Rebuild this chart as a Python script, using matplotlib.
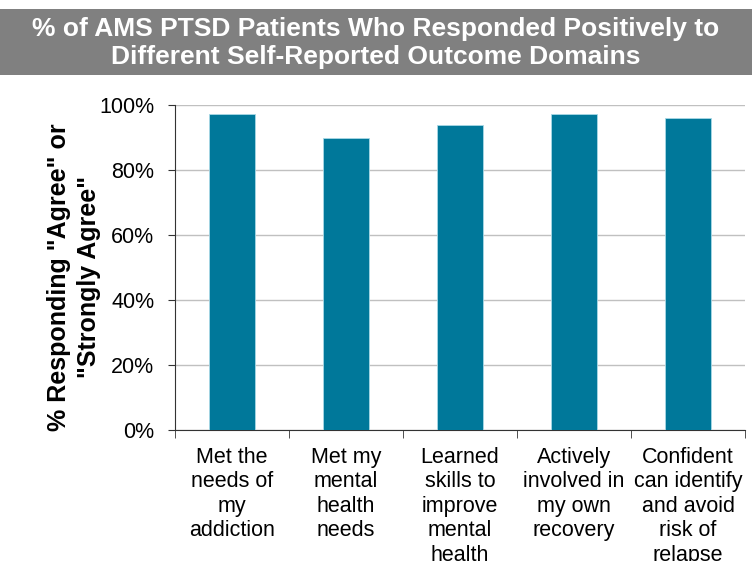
import numpy as np
import matplotlib.pyplot as plt
from matplotlib.patches import Rectangle
from matplotlib.ticker import FixedLocator, PercentFormatter

plt.rcParams['font.family'] = ['Liberation Sans', 'DejaVu Sans']

# data
categories = ['Met the\nneeds of\nmy\naddiction',
              'Met my\nmental\nhealth\nneeds',
              'Learned\nskills to\nimprove\nmental\nhealth',
              'Actively\ninvolved in\nmy own\nrecovery',
              'Confident\ncan identify\nand avoid\nrisk of\nrelapse']
pct_agree = [97.2, 89.7, 93.8, 97.2, 95.9]
y_ticks = [0, 20, 40, 60, 80, 100]

title = ('% of AMS PTSD Patients Who Responded Positively to\n'
         'Different Self-Reported Outcome Domains')
ylabel = '% Responding "Agree" or\n"Strongly Agree"'

bar_color = '#00789a'

fig = plt.figure(figsize=(7.52, 5.61), dpi=100)

# grey title banner
fig.patches.append(Rectangle((0, 1 - 75/561), 1, 66/561, transform=fig.transFigure,
                             facecolor='#808080', edgecolor='none', zorder=0))
fig.text(0.5, 1 - 43/561, title, color='white', fontsize=19, fontweight='bold',
         ha='center', va='center', linespacing=1.25)

ax = fig.add_axes([175/752, 1 - 430/561, 570/752, 325/561])
x = np.arange(len(categories))
ax.bar(x, pct_agree, width=0.4, color=bar_color, edgecolor='#a8d8e6',
       linewidth=0.6, zorder=3)

ax.set_xlim(-0.5, len(categories) - 0.5)
ax.set_ylim(0, 100)
ax.set_yticks(y_ticks)
ax.yaxis.set_major_formatter(PercentFormatter(decimals=0))
ax.yaxis.grid(True, color='#c0c0c0', linewidth=1, zorder=0)

ax.set_xticks(x)
ax.set_xticklabels(categories, fontsize=15.5, linespacing=1.22, va='top')
ax.xaxis.set_minor_locator(FixedLocator(np.arange(-0.5, len(categories), 1)))
ax.tick_params(axis='x', which='major', length=0, pad=12)
ax.tick_params(axis='x', which='minor', length=6, color='#333333')
ax.tick_params(axis='y', length=5, labelsize=15.5, color='#333333', pad=10)

for s in ['top', 'right']:
    ax.spines[s].set_visible(False)
for s in ['left', 'bottom']:
    ax.spines[s].set_color('#333333')

ax.set_ylabel(ylabel, fontsize=18, fontweight='bold', linespacing=1.3)
ax.yaxis.set_label_coords(-0.13, 0.47)

fig.savefig('out.png', dpi=100)
